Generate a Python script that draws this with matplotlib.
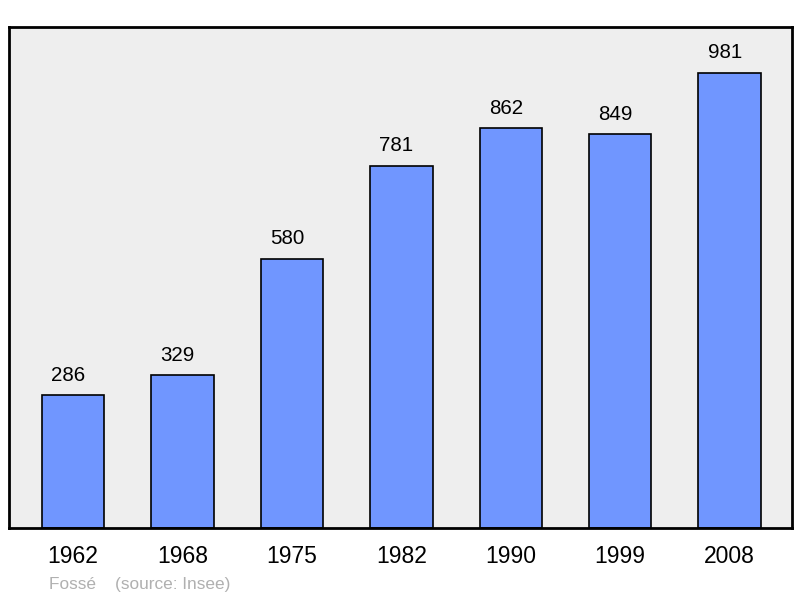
import matplotlib.pyplot as plt

years = ['1962', '1968', '1975', '1982', '1990', '1999', '2008']
population = [286, 329, 580, 781, 862, 849, 981]

plt.rcParams['font.family'] = ['Liberation Sans', 'DejaVu Sans']

fig = plt.figure(figsize=(8, 5.98), dpi=100)
ax = fig.add_axes([9 / 800, 1 - 528 / 598, 783 / 800, 501 / 598])
ax.set_facecolor('#eeeeee')

x = range(len(years))
ax.bar(x, population, width=0.57, color='#7096ff', edgecolor='black', linewidth=1.2, zorder=2)
for xi, v in zip(x, population):
    # labels sit a little left of the bar centre in the original
    ax.text(xi - 0.045, v + 43, str(v), ha='center', va='center', fontsize=14.8, color='black')

ax.set_xlim(-0.585, 6.57)
ax.set_ylim(0, 1080)
ax.set_yticks([])
ax.set_xticks(list(x))
ax.set_xticklabels(years, fontsize=16.5)
ax.tick_params(axis='x', length=0, pad=12)
for s in ax.spines.values():
    s.set_linewidth(2)

fig.text(49 / 800, 1 - 584 / 598, 'Fossé    (source: Insee)', fontsize=12.4,
         color='#b0b0b0', ha='left', va='center')

fig.savefig('out.png', dpi=100)
